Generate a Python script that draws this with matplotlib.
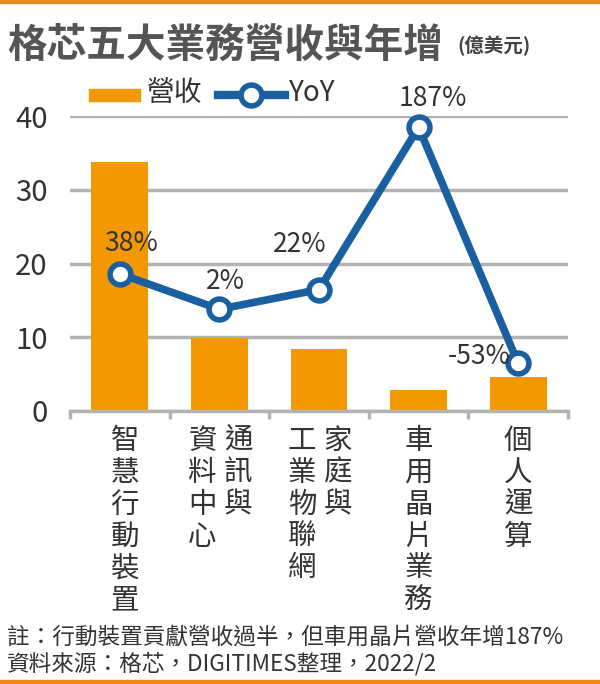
import matplotlib.pyplot as plt
import matplotlib.transforms as mtransforms
from matplotlib.lines import Line2D
from matplotlib.patches import Rectangle

plt.rcParams['font.family'] = ['Noto Sans CJK TC', 'DejaVu Sans']

# data
categories = ['智慧行動裝置', '通訊與資料中心', '家庭與工業物聯網', '車用晶片業務', '個人運算']
label_columns = [['智慧行動裝置'], ['通訊與', '資料中心'], ['家庭與', '工業物聯網'],
                 ['車用晶片業務'], ['個人運算']]
revenue = [33.8, 9.9, 8.4, 2.9, 4.6]          # 億美元
yoy = [38, 2, 22, 187, -53]                   # %
yoy_labels = ['38%', '2%', '22%', '187%', '-53%']

orange = '#F39800'
blue = '#1A5FA0'
grid_c = '#B3B3B3'
text_c = '#333333'

W, H = 600, 684
fig = plt.figure(figsize=(6, 6.84), dpi=100)

def fx(px):
    return px / W

def fy(py):
    return 1 - py / H

ax = fig.add_axes([fx(70), fy(411), fx(568) - fx(70), fy(116) - fy(411)])
ax2 = ax.twinx()

x = [i + 0.5 for i in range(len(categories))]
ax.bar(x, revenue, width=0.57, color=orange, zorder=2)
ax.set_xlim(0, 5)
ax.set_ylim(0, 40)
ax.set_yticks([0, 10, 20, 30, 40])
ax.set_yticklabels(['0', '10', '20', '30', '40'], fontsize=21, color=text_c)
ax.tick_params(axis='y', length=0, pad=16)
ax.set_xticks([0, 1, 2, 3, 4, 5])
ax.set_xticklabels([])
ax.tick_params(axis='x', direction='out', length=6, width=2.5, color=grid_c)
ax.grid(axis='y', color=grid_c, linewidth=2.5, zorder=0)
ax.set_axisbelow(True)
for s in ['top', 'right', 'left']:
    ax.spines[s].set_visible(False)
ax.spines['bottom'].set_color(grid_c)
ax.spines['bottom'].set_linewidth(2.5)

# YoY on secondary scale
ax2.set_ylim(-101.5, 198.5)
ax2.axis('off')
ax2.plot(x, yoy, color=blue, linewidth=5.5, marker='o', markersize=15,
         markerfacecolor='white', markeredgecolor=blue, markeredgewidth=4,
         clip_on=False, zorder=3, solid_joinstyle='miter')
offsets = [(8, 12), (4, 10), (-14, 23), (10, 11), (-28, -5)]
for xi, yi, lab, off in zip(x, yoy, yoy_labels, offsets):
    ax2.annotate(lab, (xi, yi), xytext=off, textcoords='offset points',
                 ha='center', va='bottom', fontsize=19, color=text_c)

# vertical category labels
blend = mtransforms.blended_transform_factory(ax.transData, fig.transFigure)
for xi, cols in zip(x, label_columns):
    n = len(cols)
    for j, col in enumerate(cols):
        if n == 1:
            cx = xi + 0.05 if j == 0 and xi < 1 else xi
        else:
            cx = xi + (0.19 if j == 0 else -0.17)
        ax.text(cx, fy(426), '\n'.join(col), transform=blend, ha='center', va='top',
                fontsize=20.5, color=text_c, linespacing=1.08)

# title
fig.text(fx(7), fy(45), '格芯五大業務營收與年增', fontsize=28.5, fontweight='bold',
         color='#555555', va='center', ha='left')
fig.text(fx(457), fy(46), '(億美元)', fontsize=14, fontweight='bold',
         color='#444444', va='center', ha='left')

# legend
fig.add_artist(Rectangle((fx(89), fy(101)), fx(140) - fx(89), fy(89) - fy(101),
                         transform=fig.transFigure, color=orange))
fig.text(fx(147), fy(93), '營收', fontsize=20, color=text_c, va='center')
fig.add_artist(Line2D([fx(218), fx(285)], [fy(95), fy(95)], transform=fig.transFigure,
                      color=blue, linewidth=6))
fig.add_artist(Line2D([fx(251)], [fy(95)], transform=fig.transFigure, marker='o',
                      markersize=15, markerfacecolor='white', markeredgecolor=blue,
                      markeredgewidth=4))
fig.text(fx(289), fy(93), 'YoY', fontsize=20, color=text_c, va='center')

# footer
fig.text(fx(7), fy(637), '註：行動裝置貢獻營收過半，但車用晶片營收年增187%', fontsize=16.3,
         color=text_c, va='center')
fig.text(fx(7), fy(664), '資料來源：格芯，DIGITIMES整理，2022/2', fontsize=16.3,
         color=text_c, va='center')

# orange border lines
fig.add_artist(Rectangle((0, fy(3)), 1, fy(0) - fy(3), transform=fig.transFigure,
                         color='#EE8A1A'))
fig.add_artist(Rectangle((0, 0), 1, fy(680), transform=fig.transFigure,
                         color='#EE8A1A'))

fig.savefig('out.png', dpi=100)
